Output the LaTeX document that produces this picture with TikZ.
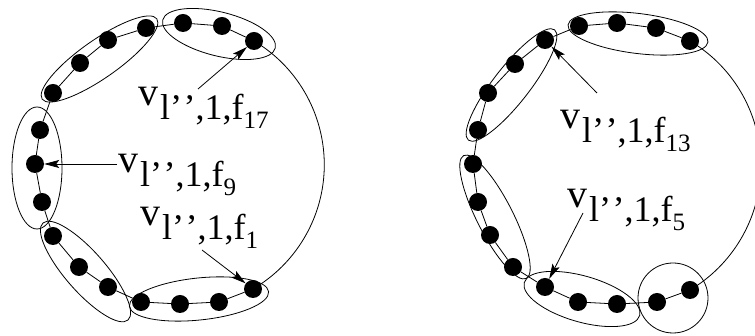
\documentclass[tikz,border=0pt]{standalone}
\usepackage{fontspec}
\setmainfont{Liberation Serif}
\usetikzlibrary{shapes.geometric,arrows.meta}
\newcommand{\vlab}[1]{{\fontsize{40}{40}\selectfont v}\kern2pt\raisebox{-14pt}{\fontsize{36}{36}\selectfont l\textquoteright\kern1.5pt\textquoteright,1,f\raisebox{-9pt}{\fontsize{25}{25}\selectfont #1}}}
\begin{document}
\begin{tikzpicture}[x=1pt,y=1pt,
  dot/.style={circle,fill=black,minimum size=18pt,inner sep=0pt},
  grp/.style={ellipse,draw,line width=0.8pt,inner sep=0pt},
  ring/.style={line width=0.8pt},
  arr/.style={line width=0.8pt,-{Stealth[length=15pt,width=8pt,inset=3pt]}},
  lab/.style={anchor=base west,inner sep=0pt}]
\useasboundingbox (0,0) rectangle (755,336);
% ---------- left figure ----------
\foreach \n/\x/\y in {1/253/47,2/219/34,3/180/32,4/141/34,5/108/49,6/79/69,7/53/100,8/42/134,9/35/172,10/40/206,11/53/243,12/80/273,13/108/296,14/146/308,15/183/313,16/222/310,17/254/295}
  \node[dot] (a\n) at (\x,\y) {};
\draw[ring] (a1)--(a2)--(a3)--(a4)--(a5)--(a6)--(a7)--(a8)--(a9)--(a10)--(a11)--(a12)--(a13)--(a14)--(a15)--(a16)--(a17);
\draw[ring] (a17.center) arc[start angle=59.2, end angle=-59.5, radius=144];
\node[grp,minimum width=116pt,minimum height=44pt,rotate=-14] (ea1) at (219,302) {};
\node[grp,minimum width=140pt,minimum height=38pt,rotate=35] (ea2) at (99.5,277) {};
\node[grp,minimum width=50pt,minimum height=122pt] (ea3) at (37,168) {};
\node[grp,minimum width=129pt,minimum height=40pt,rotate=-48.8] (ea4) at (85.5,64.5) {};
\node[grp,minimum width=140pt,minimum height=42pt,rotate=6] (ea5) at (199,37) {};
\node[lab] (la17) at (138,230) {\vlab{17}};
\node[lab] (la9) at (118,163) {\vlab{9}};
\node[lab] (la1) at (140,110) {\vlab{1}};
\coordinate (sa17) at (198,247);
\coordinate (sa9) at (117,172);
\coordinate (sa1) at (202,86);
\draw[arr] (sa17) -- (a17);
\draw[arr] (sa9) -- (a9);
\draw[arr] (sa1) -- (a1);
% ---------- right figure ----------
\foreach \n/\x/\y in {1/690/46,2/657/34,3/617/32,4/578/34,5/545/49,6/513/69,7/490/101,8/478/134,9/473/172,10/478/206,11/488/243,12/515/272,13/545/296,14/579/310,15/617/313,16/656/308,17/690/295}
  \node[dot] (b\n) at (\x,\y) {};
\draw[ring] (b1)--(b2)--(b3)--(b4)--(b5)--(b6)--(b7)--(b8)--(b9)--(b10)--(b11)--(b12)--(b13)--(b14)--(b15)--(b16)--(b17);
\draw[ring] (b17.center) arc[start angle=59.3, end angle=-59.3, radius=144.8];
\node[grp,minimum width=141pt,minimum height=40pt,rotate=-7] (eb1) at (638,302.5) {};
\node[grp,minimum width=140pt,minimum height=36pt,rotate=52] (eb2) at (511.5,251) {};
\node[grp,minimum width=138pt,minimum height=36pt,rotate=-63] (eb3) at (495,119) {};
\node[grp,minimum width=120pt,minimum height=46pt,rotate=-16] (eb4) at (582,37) {};
\node[circle,draw,line width=0.8pt,minimum size=70pt,inner sep=0pt] (eb5) at (673,38) {};
\node[lab] (lb13) at (560,207) {\vlab{13}};
\node[lab] (lb5) at (567,128) {\vlab{5}};
\coordinate (sb13) at (597,243);
\coordinate (sb5) at (583,123);
\draw[arr] (sb13) -- (b13);
\draw[arr] (sb5) -- (b5);
\end{tikzpicture}
\end{document}
